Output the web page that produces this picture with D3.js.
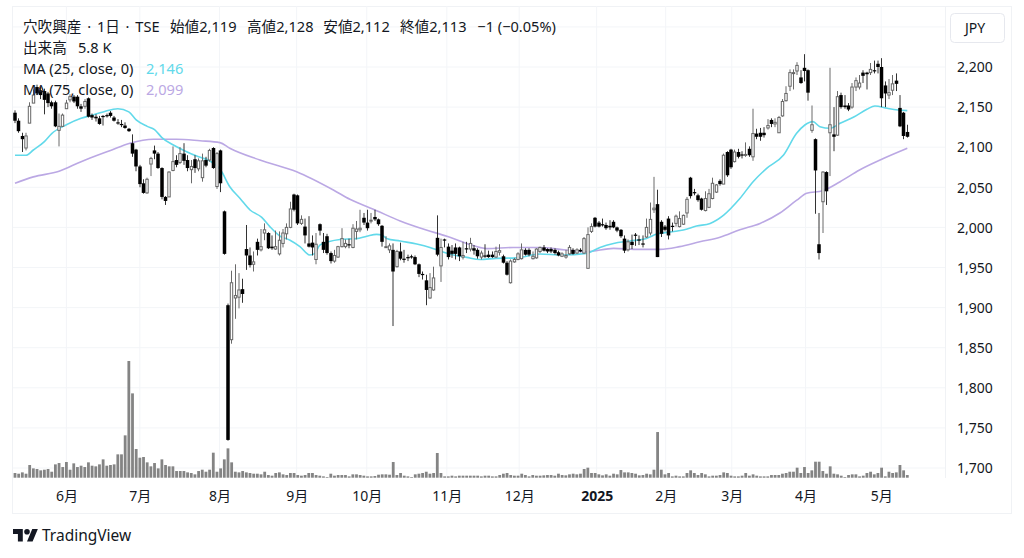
<!DOCTYPE html>
<html><head><meta charset="utf-8">
<script src="https://d3js.org/d3.v7.min.js"></script>
<style>
html,body{margin:0;padding:0;background:#fff;overflow:hidden}
svg{display:block}
text{font-family:"Noto Sans","Noto Sans CJK JP",sans-serif;fill:#131722}
</style></head><body><svg id="c" width="1024" height="558"></svg>
<script>
const opens=[2143,2133,2114,2099,2130,2155,2175,2171,2170,2167,
2156,2156,2121,2126,2148,2159,2163,2163,2151,2151,
2161,2140,2138,2136,2139,2140,2143,2137,2131,2129,
2127,2123,2105,2097,2076,2055,2043,2079,2096,2092,
2074,2038,2038,2071,2084,2081,2092,2084,2072,2085,
2073,2062,2084,2084,2099,2051,2096,2020,1903,1860,
1912,1913,1923,1973,1965,1954,1982,1972,1993,1993,
1976,1973,1967,1980,1992,2000,2041,2040,2005,2001,
1980,1981,1960,2004,1982,1989,1968,1958,1963,1976,
1976,1979,1975,1995,1997,2012,2006,2008,2013,2010,
2002,1975,1972,1972,1951,1970,1961,1963,1964,1963,
1954,1942,1934,1912,1922,1987,1952,1985,1976,1971,
1975,1975,1963,1974,1973,1974,1972,1963,1965,1966,
1966,1963,1969,1964,1956,1931,1957,1960,1961,1972,
1972,1961,1962,1970,1975,1973,1973,1972,1969,1964,
1963,1967,1972,1968,1972,1968,1949,1995,2012,2006,
2004,2003,2002,2007,2000,1997,1986,1972,1982,1991,
1985,1980,1988,1993,2022,2029,2007,2001,2011,2002,
2005,2001,2004,2018,2062,2044,2040,2036,2021,2025,
2036,2044,2058,2054,2094,2097,2082,2094,2091,2090,
2098,2088,2117,2118,2118,2124,2134,2129,2118,2139,
2158,2176,2192,2195,2187,2199,2196,2121,2110,1979,
2032,2069,2118,2116,2115,2165,2152,2152,2150,2175,
2175,2193,2193,2193,2196,2204,2200,2177,2165,2171,
2183,2149,2143,2119];
const highs=[2146,2136,2118,2118,2156,2172,2178,2175,2173,2169,
2158,2158,2142,2142,2159,2166,2165,2165,2154,2160,
2162,2142,2141,2139,2140,2142,2145,2139,2135,2134,
2131,2124,2116,2098,2078,2060,2062,2088,2102,2094,
2075,2039,2070,2101,2090,2100,2105,2090,2084,2090,
2086,2092,2088,2098,2100,2094,2097,2021,1905,1946,
1954,1943,1936,2003,1975,1970,1986,1998,2005,1994,
1990,1996,1995,1998,2005,2032,2042,2041,2015,2011,
2014,1990,1993,2005,1993,1992,1970,1972,1977,1999,
1985,1986,2004,2008,2022,2018,2022,2018,2022,2011,
2003,1989,1980,1980,1972,1981,1972,1966,1966,1965,
1955,1945,1941,1943,1951,2015,1986,1986,1980,1978,
1980,1976,1982,1982,1987,1978,1974,1971,1979,1971,
1970,1976,1979,1966,1958,1960,1962,1969,1980,1974,
1974,1970,1974,1976,1978,1974,1975,1974,1971,1969,
1972,1978,1974,1974,1974,1988,2000,2005,2013,2008,
2011,2006,2009,2009,2001,1998,1990,1985,1991,1993,
1990,1990,2011,2031,2063,2047,2009,2003,2014,2006,
2016,2020,2016,2038,2063,2048,2042,2037,2045,2048,
2062,2054,2060,2092,2095,2098,2097,2098,2095,2106,
2101,2148,2123,2124,2125,2135,2136,2136,2139,2160,
2176,2197,2197,2206,2196,2216,2197,2152,2111,2018,
2070,2070,2199,2150,2170,2168,2165,2155,2180,2187,
2190,2196,2194,2205,2208,2208,2211,2182,2185,2190,
2192,2165,2144,2128];
const lows=[2130,2118,2094,2096,2130,2155,2165,2160,2141,2150,
2148,2125,2101,2125,2148,2156,2155,2148,2144,2148,
2137,2134,2132,2128,2127,2137,2137,2132,2128,2125,
2123,2119,2088,2070,2050,2042,2042,2064,2085,2073,
2035,2028,2038,2070,2075,2079,2078,2070,2055,2068,
2070,2057,2075,2082,2073,2048,2044,1966,1734,1855,
1886,1899,1906,1947,1950,1945,1965,1970,1984,1973,
1972,1972,1965,1975,1985,1999,2020,2003,2003,1980,
1975,1965,1954,1990,1968,1966,1955,1956,1962,1975,
1974,1974,1974,1985,1994,2003,1996,2005,2008,2002,
1976,1975,1968,1877,1950,1959,1956,1958,1961,1953,
1938,1935,1903,1911,1921,1964,1932,1975,1960,1962,
1960,1958,1960,1968,1970,1966,1961,1960,1962,1962,
1962,1962,1965,1955,1940,1930,1956,1959,1960,1965,
1964,1960,1961,1968,1970,1968,1968,1966,1964,1963,
1961,1966,1966,1967,1969,1967,1949,1993,2000,2000,
2001,1997,1997,1999,1994,1987,1968,1970,1973,1977,
1978,1975,1987,1990,2018,1963,1988,1995,1985,1995,
2001,2000,2003,2012,2036,2040,2032,2021,2020,2024,
2035,2043,2052,2054,2063,2073,2081,2086,2086,2088,
2088,2083,2110,2108,2112,2122,2125,2125,2118,2138,
2157,2170,2172,2190,2179,2182,2158,2118,2017,1960,
1993,2028,2064,2095,2114,2148,2148,2145,2148,2170,
2172,2180,2172,2190,2192,2192,2150,2150,2160,2165,
2170,2125,2110,2112];
const closes=[2133,2120,2110,2114,2151,2165,2167,2165,2159,2155,
2151,2126,2126,2140,2155,2163,2157,2151,2148,2157,
2138,2137,2136,2129,2138,2139,2139,2133,2130,2128,
2124,2120,2092,2076,2054,2043,2060,2086,2092,2074,
2038,2033,2069,2082,2078,2092,2083,2074,2076,2074,
2083,2083,2077,2096,2074,2092,2055,1967,1735,1931,
1915,1922,1917,1965,1953,1957,1972,1976,1997,1974,
1974,1976,1984,1993,2000,2023,2022,2005,2010,1990,
1976,1975,1979,1996,1972,1968,1958,1965,1976,1986,
1980,1978,1999,1998,1999,2006,1999,2009,2010,2004,
1982,1976,1977,1945,1970,1961,1960,1962,1963,1954,
1942,1941,1922,1925,1937,1966,1975,1984,1963,1967,
1967,1964,1965,1973,1980,1971,1964,1968,1964,1963,
1963,1970,1971,1956,1941,1958,1960,1967,1972,1966,
1966,1964,1973,1975,1971,1970,1970,1968,1965,1967,
1965,1975,1967,1972,1970,1986,1991,2001,2001,2001,
2003,1999,2000,2000,1996,1989,1971,1982,1978,1990,
1984,1979,2000,2010,2024,1963,1992,1997,1990,2001,
2014,2011,2015,2035,2039,2043,2034,2022,2036,2042,
2055,2053,2054,2090,2065,2075,2094,2088,2090,2091,
2090,2117,2113,2113,2115,2127,2129,2131,2137,2157,
2167,2193,2193,2202,2180,2195,2168,2128,2071,1968,
2069,2045,2128,2113,2163,2150,2150,2147,2175,2183,
2180,2189,2191,2197,2195,2200,2161,2167,2168,2179,
2179,2126,2114,2113];
const volumes=[10.2,8.7,11.6,8.7,27.6,20.3,18.9,16,17.4,18.9,
13,29,31.9,23.2,34.1,17.4,31.2,23.2,26.1,23.2,
33.4,26.1,24.7,29,39.9,26.1,27.6,29,50.8,50.8,
92.1,253.8,183.4,62.4,43.5,45,33.4,24.7,31.9,20.3,
39.9,27.6,24.7,24.7,14.5,14.5,14.5,11.6,10.2,7.3,
14.5,17.4,13,17.4,54.4,13,20.3,39.9,63.8,33.4,
13,11.6,14.5,11.6,10.2,8.7,8.7,7.3,13,5.8,
4.4,10.2,11.6,7.3,5.8,10.2,10.2,5.8,4.4,5.8,
10.2,10.2,5.8,4.4,2.9,1.5,8.7,4.4,5.8,
5.8,5.8,2.9,7.3,7.3,5.8,4.4,2.9,2.9,3.6,6.5,7.3,7.3,6.5,
34.1,
5.8,10.2,4.4,2.9,1.5,7.3,8.7,10.2,13,8.7,10.2,53.7,
10.2,2.9,2.9,4.4,2.9,4.4,4.4,4.4,4.4,4.4,
4.4,2.9,4.4,4.4,2.9,2.9,5.8,8.7,10.2,5.8,
4.4,4.4,8.7,5.8,2.9,5.8,4.4,4.4,5.1,5.8,
5.8,4.4,8.7,5.8,5.1,7.3,8.7,7.3,8.7,18.9,
21.8,10.2,10.2,7.3,5.1,7.3,4.4,8.7,7.3,16.7,
11.6,11.6,10.2,8.7,5.1,5.8,8.7,7.3,17.4,
99.3,
17.4,7.3,10.2,2.9,4.4,
2.9,2.9,10.2,16,10.2,5.8,10.2,7.3,2.9,4.4,4.4,5.8,
11.6,10.2,4.4,2.9,2.9,4.4,10.2,4.4,7.3,4.4,
2.9,2.9,2.9,5.8,5.8,5.8,8.7,10.2,13,13,
21.8,10.2,23.2,10.2,16,34.8,34.8,14.5,8.7,24.7,
8.7,7.3,4.4,1.5,5.8,7.3,7.3,2.9,4.4,10.2,
13,7.3,10.2,21.8,2.9,13,10.2,11.6,27.6,16,5.8];
const ma25Idx=[0,3,5,8,10,14,18,21,24,28,31,33,36,38,40,43,46,50,53,56,58.5,61.3,64,67.2,69.4,72.2,74.9,77.6,80.3,81.7,83,85.3,88.5,93,95.8,98.5,99.9,101.2,104.9,109.4,113,115.7,119.4,123,126.6,131,136.6,143,149,155.7,159.3,163,167.5,172,174.8,179,182,185.6,189.3,193,197.4,201,204.7,209.3,212.8,215.1,217.3,219.2,222,224.7,228.3,232,234.2,237.5,240.5,243];
const ma25Val=[2090,2090,2096.5,2107,2117,2128,2136,2140,2144,2148,2144,2134,2126,2122,2112,2103,2096,2088,2083,2071.5,2050.7,2036,2021.7,2012.5,2001,1989,1984,1976,1965.5,1967.6,1978,1982,1985,1986,1989,1991.3,1990.5,1986.3,1983,1979.3,1975,1970.5,1965.5,1962.6,1960,1961.4,1962,1966.8,1965.5,1967.6,1975,1980,1983,1986.3,1991.7,1994.6,1996.7,2001.7,2005,2015.4,2036,2057,2073.7,2090.3,2117,2127.7,2131.9,2125.6,2123.6,2129.8,2137.3,2147.3,2151.4,2148.5,2146.4,2145.6];
const ma75Idx=[0,5,12,18,26,31.3,37.7,44,50.4,55.8,58.5,66.7,76.7,86.7,91.2,98.5,104.9,112,117.6,123,128.5,135.7,143,150,155.7,163,170,175.7,181,186.5,192,197.4,202.9,208.3,212.9,215.6,220,224.7,230,235.6,243];
const ma75Val=[2055,2063,2070,2082,2096,2105,2110,2110,2108,2105.7,2098.6,2084,2069.4,2046.6,2035,2020.8,2008,1996.7,1989,1980,1973.5,1975,1975,1971.8,1969.7,1973.9,1972.6,1972.6,1976,1982,1987.6,1997,2005,2018,2034,2042.5,2045.8,2057,2071.6,2084,2098.6];
const priceTicks=[1700,1750,1800,1850,1900,1950,2000,2050,2100,2150,2200];
const gridPrices=[...priceTicks,2250];
const monthIdx=[14,34,55.7,76.7,95.8,117.6,137.3,158.4,177.2,195.2,215.3,235.9];
const monthLabels=["6月","7月","8月","9月","10月","11月","12月","2025","2月","3月","4月","5月"];
const titleParts=["穴吹興産 · 1日 · TSE","始値2,119","高値2,128","安値2,112","終値2,113","−1 (−0.05%)"];

const svg=d3.select("#c");
const x=d3.scaleLinear().domain([0,243]).range([15,907.3]);
const y=d3.scaleLinear().domain([1700,2200]).range([468,67]);
const yV=d3.scaleLinear().domain([0,253.8]).range([477.7,361]);
const gridC="#f3f5f8",frameC="#f0f2f5";
svg.append("rect").attr("x",12.5).attr("y",6.5).attr("width",999).attr("height",507).attr("fill","none").attr("stroke",frameC);
svg.append("line").attr("x1",945.5).attr("x2",945.5).attr("y1",6).attr("y2",478).attr("stroke",frameC);
svg.append("g").selectAll("line").data(gridPrices).join("line")
 .attr("x1",13).attr("x2",945).attr("y1",d=>y(d)).attr("y2",d=>y(d)).attr("stroke",gridC);
svg.append("g").selectAll("line").data(monthIdx).join("line")
 .attr("x1",d=>x(d)).attr("x2",d=>x(d)).attr("y1",6).attr("y2",478).attr("stroke",gridC);
const ya=svg.append("g").attr("transform","translate(957,0)").call(d3.axisRight(y).tickValues(priceTicks).tickSize(0).tickPadding(0).tickFormat(d3.format(",")));
ya.select(".domain").remove();
ya.selectAll("text").attr("font-size",14).attr("dy","0.34em");
const xa=svg.append("g").attr("transform","translate(0,478)").call(d3.axisBottom(x).tickValues(monthIdx).tickSize(0).tickPadding(0).tickFormat((d,i)=>monthLabels[i]));
xa.select(".domain").remove();
xa.selectAll("text").attr("font-size",14).attr("y",23).attr("dy",0).attr("font-weight",(d,i)=>monthLabels[i]==="2025"?700:400);
svg.append("g").selectAll("rect").data(volumes).join("rect")
 .attr("x",(d,i)=>x(i)-1.4).attr("width",2.8).attr("y",d=>yV(d)).attr("height",d=>yV(0)-yV(d)).attr("fill","#848484");
const line=(idx)=>d3.line().x((d,i)=>x(idx[i])).y(d=>y(d)).curve(d3.curveMonotoneX);
svg.append("path").attr("d",line(ma75Idx)(ma75Val)).attr("fill","none").attr("stroke","#bba8e4").attr("stroke-width",1.6);
svg.append("path").attr("d",line(ma25Idx)(ma25Val)).attr("fill","none").attr("stroke","#62d9ea").attr("stroke-width",1.6);
const g=svg.append("g");
opens.forEach((o,i)=>{
 const c=closes[i],up=c>=o,px=Math.round(x(i)*2)/2;
 g.append("line").attr("x1",px).attr("x2",px).attr("y1",y(highs[i])).attr("y2",y(lows[i])).attr("stroke",up?"#6a6a6a":"#333").attr("stroke-width",1);
 const t=y(Math.max(o,c)),b=y(Math.min(o,c));
 if(up) g.append("rect").attr("x",px-1.2).attr("width",2.4).attr("y",t).attr("height",Math.max(b-t,1)).attr("fill","#fff").attr("stroke","#666").attr("stroke-width",1);
 else g.append("rect").attr("x",px-1.75).attr("width",3.5).attr("y",t).attr("height",Math.max(b-t,1.2)).attr("fill","#000");
});
const txt=(xx,yy,s,fill)=>svg.append("text").attr("x",xx).attr("y",yy).attr("font-size",14.6).style("fill",fill||"#131722").text(s);
const tx=[23,170,247,323.3,400,477.3];
titleParts.forEach((s,i)=>{const t=txt(tx[i],32,s); if(i===0) t.attr("word-spacing",2);});
txt(23,52.5,"出来高");
txt(78,52.5,"5.8 K");
txt(23,73.5,"MA (25, close, 0)");
txt(146,73.5,"2,146","#62d9ea");
txt(23,95,"MA (75, close, 0)");
txt(146,95,"2,099","#bba8e4");
svg.append("rect").attr("x",950.5).attr("y",13.5).attr("width",54).attr("height",29).attr("rx",4).attr("fill","#fff").attr("stroke","#e6e8ee");
svg.append("text").attr("x",975).attr("y",32.5).attr("font-size",14).attr("text-anchor","middle").text("JPY");
const lg=svg.append("g").attr("transform","translate(13,526.2) scale(0.7)");
lg.append("path").attr("d","M14 22H7V11H0V4h14v18zM28 22h-8l7.5-18h8L28 22z").attr("fill","#131722");
lg.append("circle").attr("cx",20).attr("cy",8).attr("r",4).attr("fill","#131722");
svg.append("text").attr("x",42).attr("y",541).attr("font-size",15.5).text("TradingView");
</script></body></html>
